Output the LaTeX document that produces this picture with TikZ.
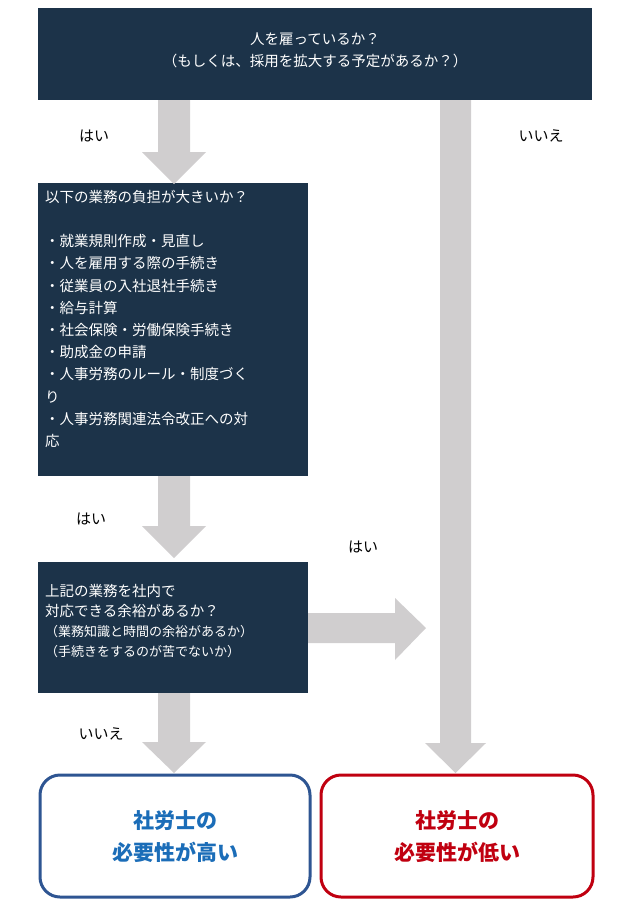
\documentclass[tikz,border=0pt]{standalone}
\usepackage{fontspec}
\newfontfamily\jp{Noto Sans CJK JP}
\definecolor{navy}{HTML}{1C3349}
\definecolor{arr}{HTML}{D0CECF}
\definecolor{bblue}{HTML}{2E5592}
\definecolor{tblue}{HTML}{1B6DB8}
\definecolor{rred}{HTML}{C00010}
\tikzset{
  darkbox/.style={fill=navy,text=white,inner sep=0pt},
  garrow/.style={fill=arr,draw=none},
  lbl/.style={font=\jp\fontsize{15}{18}\selectfont,text=black},
  result/.style={rounded corners=20pt,line width=3pt,fill=white},
}
\begin{document}
\begin{tikzpicture}[x=1pt,y=-1pt]
\useasboundingbox (0,0) rectangle (630,908);
% boxes
\fill[navy] (38,8) rectangle (592,100);
\node[text=white,align=center,font=\jp\fontsize{14.5}{22}\selectfont] (top) at (315,50) {人を雇っているか？\\（もしくは、採用を拡大する予定があるか？）};
\fill[navy] (38,183) rectangle (308,476);
\node[text=white,align=left,anchor=north west,font=\jp\fontsize{14.5}{22.2}\selectfont,inner sep=0pt] (q2) at (45,190) {以下の業務の負担が大きいか？\\[22pt]・就業規則作成・見直し\\・人を雇用する際の手続き\\・従業員の入社退社手続き\\・給与計算\\・社会保険・労働保険手続き\\・助成金の申請\\・人事労務のルール・制度づく\\り\\・人事労務関連法令改正への対\\応};
\fill[navy] (38,562) rectangle (308,693);
\node[text=white,align=left,anchor=north west,font=\jp\fontsize{14.5}{20}\selectfont,inner sep=0pt] (q3) at (45,584) {上記の業務を社内で\\対応できる余裕があるか？\\{\fontsize{13}{18}\selectfont（業務知識と時間の余裕があるか）}\\{\fontsize{13}{18}\selectfont（手続きをするのが苦でないか）}};
% arrows
\coordinate (a1) at (174,100);
\fill[garrow] (158,100) -- (190,100) -- (190,152) -- (206,152) -- (174,184) -- (142,152) -- (158,152) -- cycle;
\fill[garrow] (158,476) -- (190,476) -- (190,526) -- (206,526) -- (174,558) -- (142,526) -- (158,526) -- cycle;
\fill[garrow] (158,693) -- (190,693) -- (190,742) -- (206,742) -- (174,773) -- (142,742) -- (158,742) -- cycle;
\fill[garrow] (440,100) -- (471,100) -- (471,743) -- (486,743) -- (455.5,773) -- (425,743) -- (440,743) -- cycle;
\fill[garrow] (308,613) -- (395,613) -- (395,598) -- (426,628) -- (395,660) -- (395,643) -- (308,643) -- cycle;
% labels
\node[lbl] (l1) at (94,136) {はい};
\node[lbl] (l2) at (541,136) {いいえ};
\node[lbl] (l3) at (91,519) {はい};
\node[lbl] (l4) at (363,547) {はい};
\node[lbl] (l5) at (101,734) {いいえ};
% results
\draw[result,draw=bblue] (40,775) rectangle (310,897);
\node[text=tblue,align=center,font=\jp\bfseries\fontsize{21}{32}\selectfont] (r1) at (175,837) {社労士の\\必要性が高い};
\draw[result,draw=rred] (321,775) rectangle (593,897);
\node[text=rred,align=center,font=\jp\bfseries\fontsize{21}{32}\selectfont] (r2) at (457,837) {社労士の\\必要性が低い};
\end{tikzpicture}
\end{document}
